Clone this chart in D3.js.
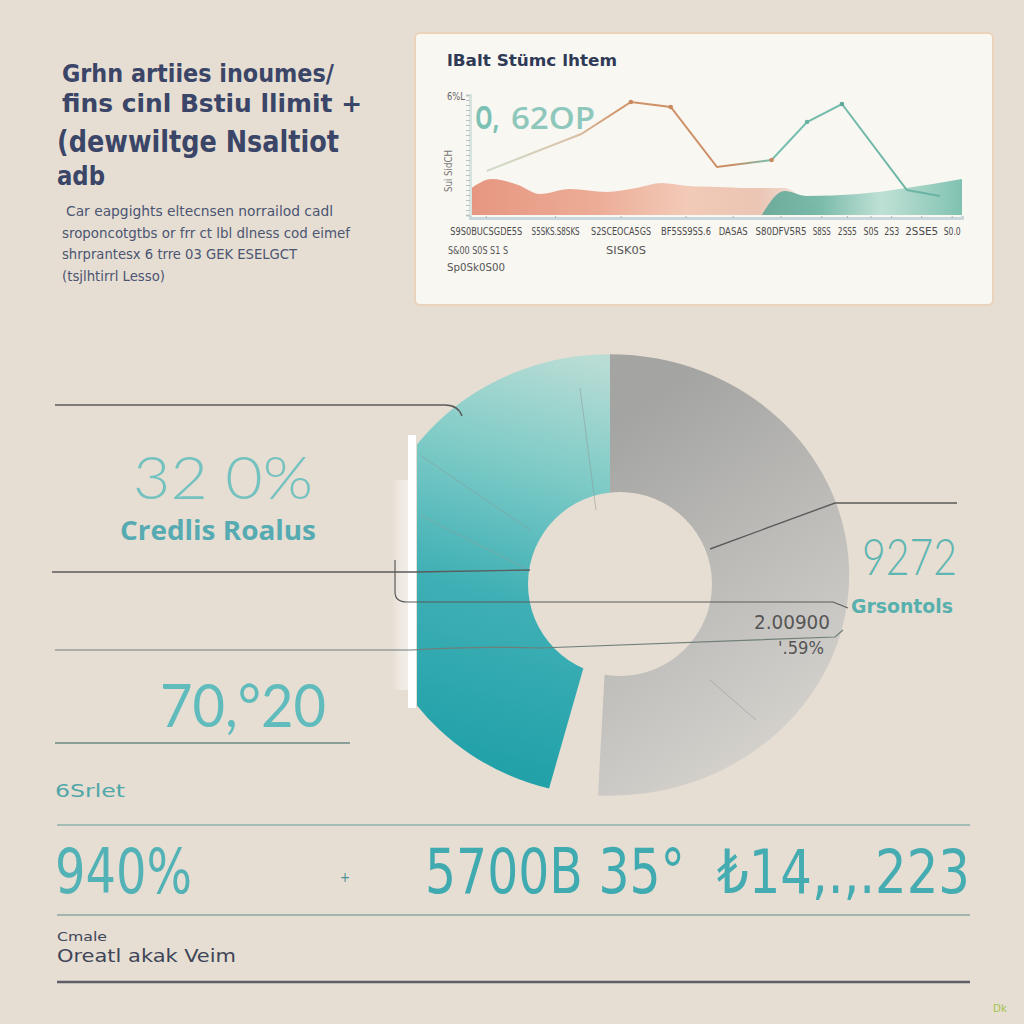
<!DOCTYPE html>
<html><head><meta charset="utf-8">
<script src="https://cdn.jsdelivr.net/npm/d3@7"></script>
<style>html,body{margin:0;padding:0;background:#e6ded3;}svg{display:block;}</style>
</head><body>
<script>
// ---------- data ----------
const titleLines = ["Grhn artiies inoumes/", "fins cinl Bstiu llimit +", "(dewwiltge Nsaltiot", "adb"];
const noteLines = ["Car eapgights eltecnsen norrailod cadl", "sroponcotgtbs or frr ct lbl dlness cod eimef", "shrprantesx 6 trre  03 GEK  ESELGCT", "(tsjlhtirrl Lesso)"];
const cardTitle = "lBalt Stümc lhtem";
const cardBigText = ["O,", "62OP"];
const yAxisTop = "6%L";
const yAxisLabel = "Sui SidCH";
const lineX = [3.4, 22.6, 32.7, 40.8, 50.2, 61.3, 68.5, 75.6, 88.8, 95.5];
const lineY = [2.2, 4.05, 5.65, 5.4, 2.4, 2.75, 4.65, 5.55, 1.25, 0.95];
const peachX = [0, 4.5, 9.8, 14.2, 20.3, 27.8, 33.8, 39, 44.3, 50.4, 56.4, 63.9, 67.8, 73];
const peachY = [1.3, 1.8, 1.5, 1.05, 1.3, 1.15, 1.35, 1.6, 1.45, 1.4, 1.35, 1.35, 0.8, 0];
const tealX = [59.3, 63.9, 68.5, 78.9, 88.7, 100];
const tealY = [0, 1.2, 0.95, 1.05, 1.35, 1.8];
const xTickPos = [3.2, 17.3, 30.6, 43.8, 53.4, 63.1, 71.4, 76.6, 81.4, 85.6, 91.7, 97.9];
const xTickLabels = ["S9S0BUCSGDE5S", "S5SKS.S8SKS", "S2SCEOCA5GS", "BF5SS9SS.6", "DASAS", "S80DFV5R5", "S8SS", "2SS5", "S0S", "2S3", "2SSE5", "S0.0"];
const xSubLabels = ["S&00 S0S S1 S", "SISK0S", "Sp0Sk0S00"];
const donutCategories = ["Grsontols", "gap", "Credlis Roalus"];
const donutValues = [50.8, 3.3, 45.9];
const leftStats = ["32 0%", "70,°20"];
const leftStatLabel = "Credlis Roalus";
const leftSmall = "6Srlet";
const rightStat = "9272";
const rightSub = ["2.00900", "'.59%"];
const bottomStats = ["940%", "+", "5700B 35°", "₺14,.,.223"];
const footerLines = ["Cmale", "Oreatl akak Veim"];
const cornerMark = "Dk";

// ---------- setup ----------
const W = 1024, H = 1024;
const svg = d3.select("body").append("svg").attr("width", W).attr("height", H);
const defs = svg.append("defs");
svg.append("rect").attr("width", W).attr("height", H).attr("fill", "#e6ded3");

const NARROW = "'Liberation Sans Narrow','DejaVu Sans Condensed','Roboto Condensed',sans-serif";
const LIGHT = "Lato,'Open Sans',sans-serif";

function txt(g, x, y, s, o) {
  const t = g.append("text").attr("x", x).attr("y", y).text(s)
    .attr("font-family", o.family || NARROW)
    .attr("font-size", o.size || 14)
    .attr("font-weight", o.weight || 400)
    .attr("fill", o.fill || "#333");
  if (o.len) t.attr("textLength", o.len).attr("lengthAdjust", "spacingAndGlyphs");
  if (o.anchor) t.attr("text-anchor", o.anchor);
  if (o.opacity) t.attr("opacity", o.opacity);
  return t;
}
function grad(id, x1, y1, x2, y2, stops) {
  const g = defs.append("linearGradient").attr("id", id).attr("gradientUnits", "userSpaceOnUse")
    .attr("x1", x1).attr("y1", y1).attr("x2", x2).attr("y2", y2);
  stops.forEach(s => g.append("stop").attr("offset", s[0]).attr("stop-color", s[1]).attr("stop-opacity", s[2] == null ? 1 : s[2]));
  return g;
}

// ---------- top-left title ----------
const tl = svg.append("g");
const navy = "#3a4567";
txt(tl, 62, 82, titleLines[0], {size: 25, weight: 700, fill: navy, len: 272});
txt(tl, 62, 112, titleLines[1], {size: 25, weight: 700, fill: navy, len: 300});
txt(tl, 57, 152, titleLines[2], {size: 30, weight: 700, fill: navy, len: 282});
txt(tl, 57, 185, titleLines[3], {size: 27, weight: 700, fill: navy, len: 48});
const noteLens = [267, 288, 235, 103];
noteLines.forEach((s, i) => txt(tl, i === 0 ? 66 : 62, 216 + i * 21.5, s, {size: 14, fill: "#4b5572", len: noteLens[i]}));

// ---------- card ----------
svg.append("rect").attr("x", 415).attr("y", 33).attr("width", 578).attr("height", 272)
  .attr("rx", 5).attr("fill", "#f9f7f2").attr("stroke", "#ebd2ba").attr("stroke-width", 2);
txt(svg, 447, 66, cardTitle, {size: 16, weight: 700, fill: "#2f3a57", len: 170});

const x = d3.scaleLinear().domain([0, 100]).range([470, 962]);
const y = d3.scaleLinear().domain([0, 6]).range([215, 95]);
const card = svg.append("g");

grad("gPeach", 470, 0, 830, 0, [["0", "#e5917a", 0.95], ["0.35", "#eba48c", 0.9], ["0.6", "#f1c2ad", 0.85], ["0.8", "#e8b8a4", 0.8], ["1", "#d9b4a0", 0]]);
grad("gTeal", 760, 0, 962, 0, [["0", "#5fa797", 0.9], ["0.3", "#6cb4a2", 0.9], ["0.6", "#b4dccf", 0.85], ["1", "#79bfad", 0.95]]);
grad("gLine", 480, 0, 940, 0, [["0", "#cfe0cf"], ["0.2", "#d9c4a8"], ["0.3", "#d2946a"], ["0.55", "#c98c62"], ["0.63", "#78c0ae"], ["1", "#6ab3a4"]]);

txt(card, 475, 129, cardBigText[0], {family: "'Open Sans',sans-serif", size: 32, weight: 700, fill: "#6fbcae", len: 24, opacity: 0.9});
txt(card, 511, 129, cardBigText[1], {family: "'Open Sans',sans-serif", size: 30, weight: 600, fill: "#7cc0b3", len: 84, opacity: 0.85});

const area = d3.area().x(d => x(d[0])).y0(y(0)).y1(d => y(d[1])).curve(d3.curveMonotoneX);
card.append("path").attr("d", area(peachX.map((v, i) => [v, peachY[i]]))).attr("fill", "url(#gPeach)");
card.append("path").attr("d", area(tealX.map((v, i) => [v, tealY[i]]))).attr("fill", "url(#gTeal)");

const line = d3.line().x(d => x(d[0])).y(d => y(d[1]));
card.append("path").attr("d", line(lineX.map((v, i) => [v, lineY[i]])))
  .attr("fill", "none").attr("stroke", "url(#gLine)").attr("stroke-width", 2);
[[2, "#c98a62"], [3, "#c98a62"], [5, "#c98a62"], [6, "#6ab3a4"], [7, "#5fa797"]].forEach(([i, c]) =>
  card.append("circle").attr("cx", x(lineX[i])).attr("cy", y(lineY[i])).attr("r", 2.3).attr("fill", c));

const yAx = card.append("g").attr("transform", "translate(470,0)")
  .call(d3.axisLeft(y).tickValues(d3.range(0, 6.01, 0.25)).tickSize(4).tickFormat(""));
yAx.select(".domain").attr("stroke", "#d7e3df").attr("stroke-width", 3);
yAx.selectAll(".tick line").attr("stroke", "#b9c2c0");
txt(card, 447, 100, yAxisTop, {size: 10, fill: "#666", len: 18});
txt(card, 0, 0, yAxisLabel, {size: 10, fill: "#777", len: 42}).attr("transform", "translate(452,192) rotate(-90)");

const xAx = card.append("g").attr("transform", "translate(0,218)")
  .call(d3.axisBottom(x).tickValues(xTickPos).tickSize(-2).tickFormat((d, i) => xTickLabels[i]));
xAx.select(".domain").attr("stroke", "#c9d6da").attr("stroke-width", 3);
xAx.selectAll(".tick line").attr("stroke", "#aab6bb");
const tickLens = [72, 48, 60, 50, 29, 51, 18, 19, 15, 15, 33, 17];
xAx.selectAll(".tick text").attr("y", 10).attr("font-family", NARROW).attr("font-size", 10)
  .attr("fill", "#4a4a4a").attr("textLength", (d, i) => tickLens[i]).attr("lengthAdjust", "spacingAndGlyphs");
txt(card, 448, 254, xSubLabels[0], {size: 10, fill: "#555", len: 60});
txt(card, 606, 254, xSubLabels[1], {size: 10, fill: "#555", len: 40});
txt(card, 447, 271, xSubLabels[2], {size: 10, fill: "#555", len: 58});

// ---------- donut ----------
const cx = 610, cy = 575, R = 230, sx = 1.04, sy = 0.96;
grad("gTealD", (600 - cx) / sx, (360 - cy) / sy, (470 - cx) / sx, (760 - cy) / sy, [["0", "#b9ddd5"], ["0.3", "#7ccac6"], ["0.6", "#3fb0b5"], ["1", "#22a1a9"]]);
grad("gGray", (620 - cx) / sx, (420 - cy) / sy, (850 - cx) / sx, (700 - cy) / sy, [["0", "#a4a4a2"], ["0.5", "#bcbbb8"], ["1", "#d5d2cd"]]);
grad("gGlow", 0, 0, 1, 0, [["0", "#ffffff", 0], ["1", "#f3efe9", 0.9]]).attr("gradientUnits", "objectBoundingBox");
defs.append("clipPath").attr("id", "clipL").append("rect").attr("x", (417 - cx) / sx).attr("y", -400).attr("width", 800).attr("height", 800);

svg.append("rect").attr("x", 392).attr("y", 480).attr("width", 18).attr("height", 210).attr("fill", "url(#gGlow)");

const pie = d3.pie().sort(null).value(d => d.v);
const arcs = pie(donutCategories.map((c, i) => ({c, v: donutValues[i]})));
const arc = d3.arc().innerRadius(0).outerRadius(R);
const dg = svg.append("g").attr("transform", `translate(${cx},${cy}) scale(${sx},${sy})`);
arcs.forEach(a => {
  if (a.data.c === "gap") return;
  const isGray = a.data.c === "Grsontols";
  dg.append("path").attr("d", arc(a))
    .attr("fill", isGray ? "url(#gGray)" : "url(#gTealD)")
    .attr("clip-path", isGray ? null : "url(#clipL)");
});
svg.append("circle").attr("cx", 620).attr("cy", 584).attr("r", 92).attr("fill", "#e6ded3");

const inner = [[420, 455, 530, 530], [580, 388, 596, 510], [710, 680, 756, 720], [420, 515, 525, 568]];
inner.forEach(l => svg.append("line").attr("x1", l[0]).attr("y1", l[1]).attr("x2", l[2]).attr("y2", l[3])
  .attr("stroke", "#8f9a98").attr("stroke-width", 1).attr("opacity", 0.55));
svg.append("rect").attr("x", 408).attr("y", 435).attr("width", 8).attr("height", 273).attr("fill", "#ffffff");

const leaders = [
  ["M55,405 H445 Q458,405 462,416", "#5b5b5b", 1.5],
  ["M52,572 H415 L530,570", "#5b5b5b", 1.4],
  ["M395,560 V592 Q395,602 407,602 H833 L848,608", "#5b5b5b", 1.2],
  ["M55,650 H412 Q470,646 540,648 L835,637 L843,630", "#6f7f7a", 1.2],
  ["M55,743 H350", "#8a9d97", 2],
  ["M957,503 H835 L710,549", "#5b5b5b", 1.4]
];
leaders.forEach(l => svg.append("path").attr("d", l[0]).attr("fill", "none").attr("stroke", l[1]).attr("stroke-width", l[2]));

// ---------- stats text ----------
const st = svg.append("g");
txt(st, 133, 499, leftStats[0], {family: LIGHT, size: 60, weight: 300, fill: "#74c2bf", len: 180});
txt(st, 120, 540, leftStatLabel, {family: "'Open Sans',sans-serif", size: 26, weight: 700, fill: "#55abb1", len: 196});
txt(st, 160, 727, leftStats[1], {family: LIGHT, size: 60, weight: 400, fill: "#60bcbc", len: 166});
txt(st, 55, 797, leftSmall, {size: 17, fill: "#4fa7a8", len: 70});
txt(st, 862, 575, rightStat, {family: LIGHT, size: 52, weight: 300, fill: "#5db6b1", len: 95});
txt(st, 851, 613, donutCategories[0], {size: 19, weight: 700, fill: "#57b0ad", len: 102});
txt(st, 754, 629, rightSub[0], {family: "'DejaVu Sans',sans-serif", size: 20, fill: "#555", len: 76});
txt(st, 778, 654, rightSub[1], {family: "'DejaVu Sans',sans-serif", size: 18, fill: "#555", len: 46});

[[825, "#a3bcb5", 2], [915, "#9fb5ae", 2], [982, "#5e5e68", 2.5]].forEach(l =>
  svg.append("line").attr("x1", 57).attr("x2", 970).attr("y1", l[0]).attr("y2", l[0]).attr("stroke", l[1]).attr("stroke-width", l[2]));

txt(st, 55, 893, bottomStats[0], {size: 62, fill: "#52b2b5", len: 137});
txt(st, 340, 882, bottomStats[1], {size: 14, fill: "#4a8f94", len: 10});
txt(st, 425, 893, bottomStats[2], {size: 62, fill: "#3fabb0", len: 260});
txt(st, 717, 893, bottomStats[3], {size: 60, fill: "#45acb1", len: 253});
txt(st, 57, 941, footerLines[0], {size: 13, fill: "#3f4558", len: 50});
txt(st, 57, 962, footerLines[1], {size: 17, fill: "#3f4558", len: 179});
txt(st, 993, 1012, cornerMark, {size: 10, fill: "#a6c34c", len: 14});
</script>
</body></html>
